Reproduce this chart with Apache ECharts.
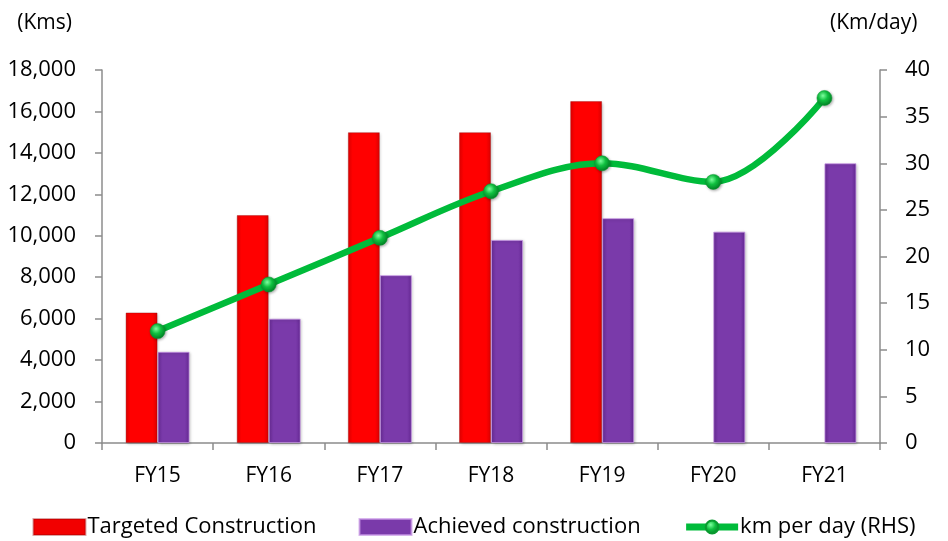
<!DOCTYPE html>
<html>
<head>
<meta charset="utf-8">
<script src="https://cdn.jsdelivr.net/npm/echarts@6/dist/echarts.min.js"></script>
<style>
  html, body { margin: 0; padding: 0; background: #fff; }
  #chart { width: 948px; height: 541px; }
</style>
</head>
<body>
<div id="chart"></div>
<script>
// Road construction: targets vs achievement, with daily pace on the right axis
const categories = ['FY15', 'FY16', 'FY17', 'FY18', 'FY19', 'FY20', 'FY21'];
const targeted = [6300, 11000, 15000, 15000, 16500, null, null];
const achieved = [4400, 6000, 8100, 9800, 10850, 10200, 13500];
const kmPerDay = [12, 17, 22, 27, 30, 28, 37];

const FONT = '"Open Sans", "Noto Sans", sans-serif';
const AXIS_GREY = '#8c8c8c';

const redFill = {
  type: 'linear', x: 0, y: 0, x2: 1, y2: 0,
  colorStops: [
    { offset: 0, color: '#e00000' },
    { offset: 0.15, color: '#ff0000' },
    { offset: 0.85, color: '#ff0000' },
    { offset: 1, color: '#d80000' }
  ]
};
const purpleFill = {
  type: 'linear', x: 0, y: 0, x2: 1, y2: 0,
  colorStops: [
    { offset: 0, color: '#6a2c98' },
    { offset: 0.15, color: '#7a3aaa' },
    { offset: 0.85, color: '#7a3aaa' },
    { offset: 1, color: '#642893' }
  ]
};
const ballFill = {
  type: 'radial', x: 0.4, y: 0.35, r: 0.7,
  colorStops: [
    { offset: 0, color: '#7dff9e' },
    { offset: 0.45, color: '#10c040' },
    { offset: 1, color: '#007a22' }
  ]
};

const chart = echarts.init(document.getElementById('chart'), null, { renderer: 'canvas' });

chart.setOption({
  animation: false,
  textStyle: { fontFamily: FONT },
  grid: { left: 102, right: 68, top: 70, bottom: 98, containLabel: false },
  legend: {
    bottom: -2,
    left: 'center',
    itemGap: 42,
    itemWidth: 52,
    itemHeight: 16,
    textStyle: { fontFamily: FONT, fontSize: 22, color: '#000', padding: [0, 0, 0, -3] },
    data: [
      { name: 'Targeted Construction', icon: 'rect', itemStyle: { color: '#f20000' } },
      { name: 'Achieved construction', icon: 'rect', itemStyle: { color: '#7a3aaa' } },
      { name: 'km per day (RHS)', lineStyle: { width: 7, color: '#00bb3a' } }
    ]
  },
  xAxis: {
    type: 'category',
    data: categories,
    axisLine: { lineStyle: { color: AXIS_GREY, width: 1.5 } },
    axisTick: { show: true, alignWithLabel: false, length: 7, lineStyle: { color: AXIS_GREY, width: 1.5 } },
    axisLabel: { color: '#000', fontSize: 21, margin: 23, fontFamily: FONT }
  },
  yAxis: [
    {
      type: 'value',
      min: 0, max: 18000, interval: 2000,
      name: '(Kms)',
      nameLocation: 'end',
      nameGap: 36,
      nameTextStyle: { color: '#000', fontSize: 21, align: 'right', padding: [0, 30, 0, 0], fontFamily: FONT },
      axisLine: { show: true, lineStyle: { color: AXIS_GREY, width: 1.5 } },
      axisTick: { show: true, length: 7, lineStyle: { color: AXIS_GREY, width: 1.5 } },
      splitLine: { show: false },
      axisLabel: {
        color: '#000', fontSize: 22, margin: 26, fontFamily: FONT,
        formatter: v => v.toLocaleString('en-US')
      }
    },
    {
      type: 'value',
      min: 0, max: 40, interval: 5,
      name: '(Km/day)',
      nameLocation: 'end',
      nameGap: 36,
      nameTextStyle: { color: '#000', fontSize: 21, align: 'left', padding: [0, 0, 0, -50], fontFamily: FONT },
      position: 'right',
      axisLine: { show: true, lineStyle: { color: AXIS_GREY, width: 1.5 } },
      axisTick: { show: true, length: 7, lineStyle: { color: AXIS_GREY, width: 1.5 } },
      splitLine: { show: false },
      axisLabel: { color: '#000', fontSize: 22, margin: 25, fontFamily: FONT }
    }
  ],
  series: [
    {
      name: 'Targeted Construction',
      type: 'bar',
      yAxisIndex: 0,
      data: targeted,
      barWidth: 32,
      barGap: '0%',
      itemStyle: {
        color: redFill,
        borderColor: 'rgba(150,0,0,0.35)',
        borderWidth: 1,
        shadowColor: 'rgba(0,0,0,0.25)',
        shadowBlur: 3,
        shadowOffsetX: 1,
        shadowOffsetY: 1
      },
      z: 2
    },
    {
      name: 'Achieved construction',
      type: 'bar',
      yAxisIndex: 0,
      data: achieved,
      barWidth: 32,
      barGap: '0%',
      itemStyle: {
        color: purpleFill,
        borderColor: 'rgba(200,150,230,0.7)',
        borderWidth: 1,
        shadowColor: 'rgba(0,0,0,0.25)',
        shadowBlur: 3,
        shadowOffsetX: 1,
        shadowOffsetY: 1
      },
      z: 2
    },
    {
      name: 'km per day (RHS)',
      type: 'line',
      yAxisIndex: 1,
      data: kmPerDay,
      smooth: 0.35,
      symbol: 'circle',
      symbolSize: 15,
      lineStyle: { color: '#00bb3a', width: 6.5 },
      itemStyle: {
        color: ballFill,
        borderColor: '#0a9a30',
        borderWidth: 0.5,
        shadowColor: 'rgba(0,0,0,0.35)',
        shadowBlur: 3,
        shadowOffsetX: 1,
        shadowOffsetY: 1
      },
      z: 5
    }
  ]
});
</script>
</body>
</html>
